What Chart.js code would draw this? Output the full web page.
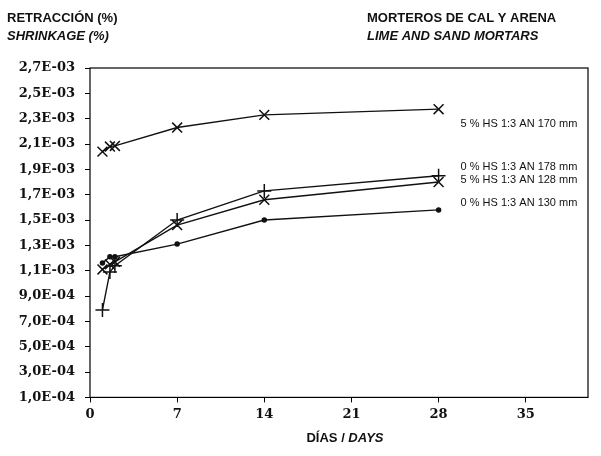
<!DOCTYPE html>
<html>
<head>
<meta charset="utf-8">
<script src="https://cdn.jsdelivr.net/npm/chart.js@4"></script>
<style>
  html, body { margin: 0; padding: 0; background: #fff; }
  #wrap { width: 601px; height: 456px; }
</style>
</head>
<body>
<div id="wrap"><canvas id="shrinkChart" width="601" height="456"></canvas></div>
<script>
const days = [1, 1.6, 2, 7, 14, 28];
const hs5_170 = [2.04e-3, 2.08e-3, 2.085e-3, 2.23e-3, 2.33e-3, 2.375e-3];
const hs0_178 = [7.9e-4, 1.09e-3, 1.14e-3, 1.50e-3, 1.73e-3, 1.85e-3];
const hs5_128 = [1.11e-3, 1.15e-3, 1.17e-3, 1.46e-3, 1.66e-3, 1.80e-3];
const hs0_130 = [1.16e-3, 1.21e-3, 1.21e-3, 1.31e-3, 1.50e-3, 1.58e-3];
const seriesLabels = ['5 % HS 1:3 AN 170 mm', '0 % HS 1:3 AN 178 mm', '5 % HS 1:3 AN 128 mm', '0 % HS 1:3 AN 130 mm'];
const xTicks = [0, 7, 14, 21, 28, 35];
const yTicks = [1e-4, 3e-4, 5e-4, 7e-4, 9e-4, 1.1e-3, 1.3e-3, 1.5e-3, 1.7e-3, 1.9e-3, 2.1e-3, 2.3e-3, 2.5e-3, 2.7e-3];

function toPoints(vals) {
    return vals.map((v, i) => ({ x: days[i], y: v }));
}

function fmtSci(v) {
    // 1.1e-3 -> "1,1E-03"
    const s = v.toExponential(1).split('e');
    const exp = Math.abs(parseInt(s[1], 10));
    return s[0].replace('.', ',') + 'E-' + String(exp).padStart(2, '0');
}

// right hand labels, offset from the last point of each line
const labelOffsets = [15, -9, -2, -7];

const decorPlugin = {
    id: 'decor',
    afterDraw(chart) {
        const ctx = chart.ctx;
        const a = chart.chartArea;
        ctx.save();
        ctx.strokeStyle = '#000';
        ctx.lineWidth = 1.2;
        ctx.strokeRect(a.left, a.top, a.right - a.left, a.bottom - a.top);

        ctx.fillStyle = '#111';
        ctx.textBaseline = 'alphabetic';
        ctx.textAlign = 'left';
        ctx.font = 'bold 13px "Liberation Sans", Arial, sans-serif';
        ctx.fillText('RETRACCIÓN (%)', 7, 22);
        ctx.fillText('MORTEROS DE CAL Y ARENA', 367, 22);
        ctx.font = 'italic bold 13px "Liberation Sans", Arial, sans-serif';
        ctx.fillText('SHRINKAGE (%)', 7, 40);
        ctx.fillText('LIME AND SAND MORTARS', 367, 40);

        // axis title, mixed upright / italic
        ctx.font = 'bold 13px "Liberation Sans", Arial, sans-serif';
        const p1 = 'DÍAS / ';
        const w1 = ctx.measureText(p1).width;
        ctx.font = 'italic bold 13px "Liberation Sans", Arial, sans-serif';
        const p2 = 'DAYS';
        const w2 = ctx.measureText(p2).width;
        const x0 = 345 - (w1 + w2) / 2;
        ctx.font = 'bold 13px "Liberation Sans", Arial, sans-serif';
        ctx.fillText(p1, x0, 442);
        ctx.font = 'italic bold 13px "Liberation Sans", Arial, sans-serif';
        ctx.fillText(p2, x0 + w1, 442);

        // series labels
        ctx.font = '11px "Liberation Sans", Arial, sans-serif';
        ctx.textBaseline = 'middle';
        chart.data.datasets.forEach((ds, i) => {
            const meta = chart.getDatasetMeta(i);
            const last = meta.data[meta.data.length - 1];
            const tx = last.x + 22;
            const ty = last.y + labelOffsets[i];
            const w = ctx.measureText(seriesLabels[i]).width;
            ctx.fillStyle = '#fff';
            ctx.fillRect(tx - 2, ty - 6, w + 4, 12);
            ctx.fillStyle = '#111';
            ctx.fillText(seriesLabels[i], tx, ty);
        });
        ctx.restore();
    }
};

const baseDs = {
    showLine: true,
    borderColor: '#111',
    backgroundColor: '#111',
    borderWidth: 1.4,
    pointBorderColor: '#111',
    pointBorderWidth: 1.5,
    tension: 0
};

const tickFont = { family: '"DejaVu Serif", "Liberation Serif", serif', size: 13, weight: 'bold' };

new Chart(document.getElementById('shrinkChart').getContext('2d'), {
    type: 'scatter',
    data: {
        datasets: [
            Object.assign({}, baseDs, { label: seriesLabels[0], data: toPoints(hs5_170), pointStyle: 'crossRot', pointRadius: 7 }),
            Object.assign({}, baseDs, { label: seriesLabels[1], data: toPoints(hs0_178), pointStyle: 'cross', pointRadius: 7 }),
            Object.assign({}, baseDs, { label: seriesLabels[2], data: toPoints(hs5_128), pointStyle: 'crossRot', pointRadius: 7 }),
            Object.assign({}, baseDs, { label: seriesLabels[3], data: toPoints(hs0_130), pointStyle: 'circle', pointRadius: 2 })
        ]
    },
    options: {
        responsive: false,
        animation: false,
        layout: { padding: { top: 68, right: 13, bottom: 30, left: 4 } },
        plugins: {
            legend: { display: false },
            tooltip: { enabled: false }
        },
        scales: {
            x: {
                type: 'linear',
                min: 0,
                max: 40,
                afterBuildTicks: (s) => { s.ticks = xTicks.map(v => ({ value: v })); },
                grid: { drawOnChartArea: false, drawTicks: true, tickLength: 5, color: '#000' },
                border: { display: false },
                ticks: { color: '#111', padding: 4, font: tickFont }
            },
            y: {
                type: 'linear',
                min: 1e-4,
                max: 2.7e-3,
                afterBuildTicks: (s) => { s.ticks = yTicks.map(v => ({ value: v })); },
                afterFit: (s) => { s.width = 86; },
                grid: { drawOnChartArea: false, drawTicks: true, tickLength: 5, color: '#000' },
                border: { display: false },
                ticks: { color: '#111', padding: 10, callback: (v) => fmtSci(v), font: tickFont }
            }
        }
    },
    plugins: [decorPlugin]
});
</script>
</body>
</html>
